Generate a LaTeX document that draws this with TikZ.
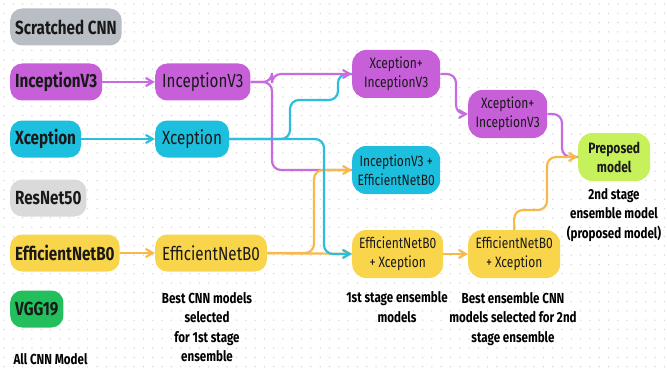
\documentclass[tikz,border=0pt]{standalone}
\usepackage{fontspec}
\setmainfont{Fira Sans}[FakeStretch=0.8]
\usepackage{tikz}
\usetikzlibrary{arrows}
\definecolor{greybox}{HTML}{B8BEC3}
\definecolor{lightbox}{HTML}{DADADA}
\definecolor{purplebox}{HTML}{C65FD8}
\definecolor{cyanbox}{HTML}{1DBFDE}
\definecolor{yellowbox}{HTML}{F9D54B}
\definecolor{greenbox}{HTML}{22BF5C}
\definecolor{limebox}{HTML}{C6F15B}
\definecolor{purpleline}{HTML}{C96BE0}
\definecolor{cyanline}{HTML}{2CBEDC}
\definecolor{orangeline}{HTML}{F8B84C}
\definecolor{dotgrey}{HTML}{D3D3D3}
\tikzstyle{model} = [rectangle, rounded corners=12pt, minimum height=37pt, inner xsep=7pt,
anchor=west, text=black!90, font=\fontsize{19}{22}\selectfont]
\tikzstyle{cnn} = [model, inner xsep=5pt, font=\fontsize{19}{22}\selectfont\bfseries]
\tikzstyle{combo} = [rectangle, rounded corners=14pt, minimum height=48pt, inner xsep=4pt,
align=center, anchor=west, text=black!90, font=\fontsize{15}{19}\selectfont]
\tikzstyle{note} = [align=center, font=\fontsize{14.5}{19.5}\selectfont\bfseries]
\tikzstyle{link} = [line width=2.2pt, rounded corners=9pt]
\tikzstyle{arrow} = [link, ->, >=angle 60]

\begin{document}
\begin{tikzpicture}[x=1pt, y=-1pt]
                 \useasboundingbox (0,0) rectangle (667,369);
                 % dotted paper
                 \foreach \i in {0,...,71}
                   \foreach \j in {0,...,39}
                     \fill[dotgrey] (4+\i*9.3, 4+\j*9.3) circle (0.75);
                 % all CNN models
                 \node (scr) [cnn, fill=greybox] at (10,27) {Scratched CNN};
                 \node (inc) [cnn, fill=purplebox] at (10,82) {InceptionV3};
                 \node (xce) [cnn, fill=cyanbox] at (10,139) {Xception};
                 \node (res) [cnn, fill=lightbox] at (10,198) {ResNet50};
                 \node (eff) [cnn, fill=yellowbox] at (10,253) {EfficientNetB0};
                 \node (vgg) [cnn, fill=greenbox] at (10,309) {VGG19};
                 \node (allcap) [note, anchor=west] at (10,359) {All CNN Model};
                 % best CNN models
                 \node (inc2) [model, fill=purplebox] at (155,82) {InceptionV3};
                 \node (xce2) [model, fill=cyanbox] at (155,139) {Xception};
                 \node (eff2) [model, fill=yellowbox] at (155,253) {EfficientNetB0};
                 \node (bestcap) [note] at (207,327) {Best CNN models\\selected\\for 1st stage\\ensemble};
                 % 1st stage ensembles
                 \node (xi1) [combo, fill=purplebox, minimum width=88pt] at (352,74) {Xception+\\InceptionV3};
                 \node (ie1) [combo, fill=cyanbox, minimum width=88pt] at (352,170) {InceptionV3 +\\EfficientNetB0};
                 \node (ex1) [combo, fill=yellowbox, minimum width=91pt] at (352,254) {EfficientNetB0\\+ Xception};
                 \node (firstcap) [note] at (397,307) {1st stage ensemble\\models};
                 % selected for 2nd stage
                 \node (xi2) [combo, fill=purplebox, minimum width=79pt] at (468,114) {Xception+\\InceptionV3};
                 \node (ex2) [combo, fill=yellowbox, minimum width=92pt] at (468,254) {EfficientNetB0\\+ Xception};
                 \node (secondcap) [note] at (513,319) {Best ensemble CNN\\models selected for 2nd\\stage ensemble};
                 % final model
                 \node (prop) [combo, fill=limebox, minimum width=72pt, inner xsep=3pt,
                   font=\fontsize{15}{19}\selectfont\bfseries] at (578,157) {Preposed\\model};
                 \node (propcap) [note] at (614,215) {2nd stage\\ensemble model\\(proposed model)};
                 % CNN to best CNN
                 \draw [arrow, purpleline] (inc) -- (inc2);
                 \draw [arrow, cyanline] (xce) -- (xce2);
                 \draw [arrow, orangeline] (eff) -- (eff2);
                 % best CNN to 1st stage
                 \draw [link, cyanline] (xce2.east) -- (290,139) -- (290,100) -- (338,100) -- (338,74) -- (xi1.west);
                 \draw [arrow, purpleline] (inc2.east) -- (272,82) |- (xi1.west);
                 \draw [link, purpleline] (inc2.east) -- (272,82) |- (ie1.west);
                 \draw [arrow, orangeline] (eff2) -- (ex1);
                 \draw [arrow, orangeline] (eff2.east) -- (314,253) |- (ie1.west);
                 \draw [arrow, cyanline] (xce2.east) -- (324,139) |- (ex1.west);
                 % 1st stage to 2nd stage
                 \draw [arrow, purpleline] (xi1.east) -- (456,74) |- (xi2.west);
                 \draw [arrow, orangeline] (ex1) -- (ex2);
                 \draw [link, purpleline] (xi2.east) -- (562,114) |- (prop.west);
                 \draw [arrow, orangeline] (ex2.north) -- (514,210) -- (547,210) |- (prop.west);
             \end{tikzpicture}
\end{document}
